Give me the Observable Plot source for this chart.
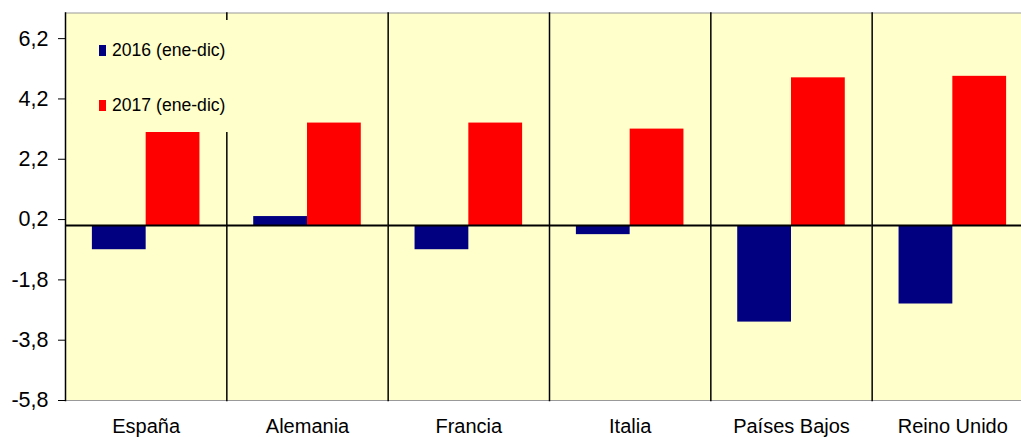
<!DOCTYPE html>
<html><head><meta charset="utf-8">
<script src="https://cdn.jsdelivr.net/npm/d3@7"></script>
<script src="https://cdn.jsdelivr.net/npm/@observablehq/plot@0.6"></script>
<style>
body{margin:0;background:#fff;}
#wrap{position:relative;width:1021px;height:437px;overflow:hidden;font-family:"Liberation Sans",Arial,sans-serif;}
#legend{position:absolute;left:92px;top:20px;width:142px;height:112px;background:#FFFFCC;}
.item{position:absolute;left:7px;font-size:17.6px;line-height:17px;color:#000;white-space:nowrap;}
.sw{display:inline-block;width:7px;height:11px;margin-right:6px;}
</style></head><body><div id="wrap"><div id="chart"></div><div id="legend"></div></div>
<script>
const countries = ["España","Alemania","Francia","Italia","Países Bajos","Reino Unido"];
const years = ["2016 (ene-dic)","2017 (ene-dic)"];
const values2016 = [-0.8, 0.3, -0.8, -0.3, -3.2, -2.6];
const values2017 = [3.1, 3.4, 3.4, 3.2, 4.9, 4.95];
const yTicks = [-5.8, -3.8, -1.8, 0.2, 2.2, 4.2, 6.2];
const colors = ["#000080", "#FF0000"];

const data = countries.flatMap((c, i) => [
  {country: c, year: years[0], value: values2016[i]},
  {country: c, year: years[1], value: values2017[i]}
]);

const plot = Plot.plot({
  width: 1021, height: 437,
  marginTop: 12.5, marginBottom: 37, marginLeft: 65, marginRight: 0,
  style: {fontFamily: "Liberation Sans, Arial, sans-serif", fontSize: "20px", background: "transparent", color: "#000"},
  fx: {domain: countries, padding: 0, range: [65, 1033], round: false, label: null, axis: "bottom", tickSize: 0, tickPadding: 18},
  x: {domain: years, axis: null, paddingInner: 0, paddingOuter: 0.5, round: false},
  y: {domain: [-5.8, 7.05], label: null},
  color: {domain: years, range: colors},
  marks: [
    Plot.frame({fill: "#FFFFCC"}),
    Plot.barY(data, {fx: "country", x: "year", y: "value", fill: "year"}),
    Plot.frame({anchor: "top", stroke: "#999"}),
    Plot.frame({anchor: "bottom", stroke: "#999"}),
    Plot.frame({anchor: "left", stroke: "#000", strokeWidth: 1.5}),
    Plot.ruleY([0], {stroke: "#000", strokeWidth: 2}),
    Plot.axisY({ticks: yTicks, tickFormat: d => d.toFixed(1).replace(".", ","), label: null, tickSize: 7, tickPadding: 10, fontSize: 21.5})
  ]
});
document.getElementById("chart").appendChild(plot);

const legend = document.getElementById("legend");
const tops = [21.6, 76.6];
years.forEach((y, i) => {
  const it = document.createElement("div");
  it.className = "item";
  it.style.top = tops[i] + "px";
  const sw = document.createElement("span");
  sw.className = "sw";
  sw.style.background = colors[i];
  it.appendChild(sw);
  it.appendChild(document.createTextNode(y));
  legend.appendChild(it);
});
</script></body></html>
